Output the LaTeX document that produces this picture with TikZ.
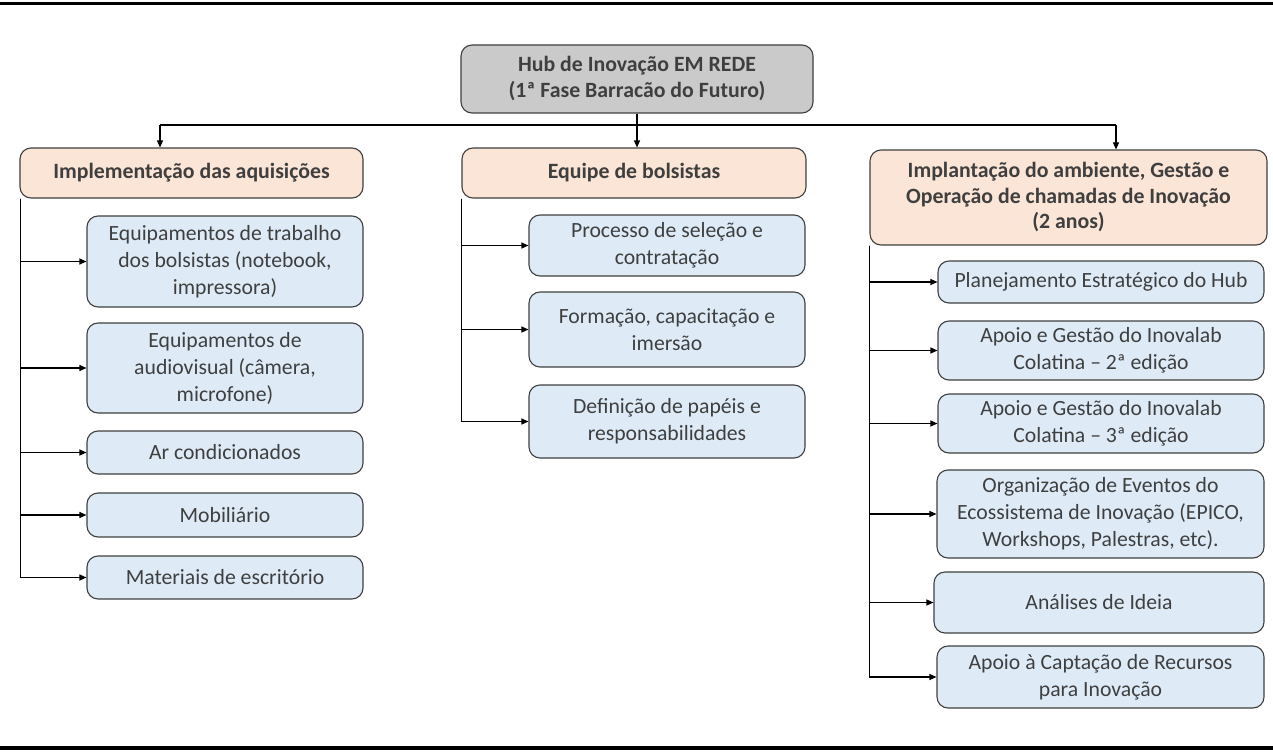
\documentclass[tikz,border=0pt]{standalone}
\usepackage{fontspec}
\setmainfont{Carlito}
\usepackage{tikz}
\usetikzlibrary{arrows.meta,positioning}

\definecolor{txtgrey}{HTML}{3F3F3F}
\definecolor{rootfill}{HTML}{CACACA}
\definecolor{headfill}{HTML}{FBE5D6}
\definecolor{kidfill}{HTML}{DEEBF7}

\begin{document}
\begin{tikzpicture}[x=1pt,y=-1pt,
    box/.style={draw=txtgrey,line width=1.1pt,rounded corners=11pt,inner sep=0pt,
                align=center,text=txtgrey,font=\fontsize{21.7}{27}\selectfont},
    rootbox/.style={box,fill=rootfill,font=\fontsize{21.8}{26}\selectfont\bfseries},
    headbox/.style={box,fill=headfill,font=\fontsize{21.8}{25.5}\selectfont\bfseries},
    kid/.style={box,fill=kidfill},
    link/.style={line width=1.1pt,black},
    arr/.style={link,-{Triangle[length=7pt,width=6pt]}}]
    \useasboundingbox (0,0) rectangle (1273,754);
    % rules top and bottom
    \draw[line width=3pt] (0,4) -- (1273,4);
    \draw[line width=4pt] (0,748) -- (1273,748);

    % root
    \node[rootbox,minimum width=352pt,minimum height=68pt] (root) at (637,79)
        {Hub de Inovação EM REDE\\(1ª Fase Barracão do Futuro)};

    % headers
    \node[headbox,minimum width=343pt,minimum height=50pt] (acq) at (191.5,173)
        {Implementação das aquisições};
    \node[headbox,minimum width=344pt,minimum height=50pt] (team) at (634,173)
        {Equipe de bolsistas};
    \node[headbox,minimum width=397pt,minimum height=95pt] (env) at (1068.5,197.5)
        {Implantação do ambiente, Gestão e\\Operação de chamadas de Inovação\\(2 anos)};

    % bus
    \coordinate (bus) at (637,125);
    \coordinate (busL) at (160,125);
    \coordinate (busR) at (1116,125);
    \draw[link] (root.south) -- (bus);
    \draw[link] (busL) -- (busR);
    \draw[arr] (bus) -- (bus |- team.north);
    \draw[arr] (busL) -- (busL |- acq.north);
    \draw[arr] (busR) -- (busR |- env.north);

    % aquisicoes
    \node[kid,minimum width=276pt,minimum height=91pt] (a1) at (225,261.5)
        {Equipamentos de trabalho\\dos bolsistas (notebook,\\impressora)};
    \node[kid,minimum width=276pt,minimum height=90pt] (a2) at (225,368)
        {Equipamentos de\\audiovisual (câmera,\\microfone)};
    \node[kid,minimum width=276pt,minimum height=43pt] (a3) at (225,452.5)
        {Ar condicionados};
    \node[kid,minimum width=276pt,minimum height=44pt] (a4) at (225,515)
        {Mobiliário};
    \node[kid,minimum width=276pt,minimum height=43pt] (a5) at (225,577.5)
        {Materiais de escritório};
    \foreach \k in {a1,a2,a3,a4,a5}
        \draw[arr] ([xshift=1pt]acq.south west) |- (\k.west);

    % bolsistas
    \node[kid,minimum width=276pt,minimum height=61pt] (b1) at (667,245.5)
        {Processo de seleção e\\contratação};
    \node[kid,minimum width=276pt,minimum height=75pt] (b2) at (667,329.5)
        {Formação, capacitação e\\imersão};
    \node[kid,minimum width=276pt,minimum height=73pt] (b3) at (667,421.5)
        {Definição de papéis e\\responsabilidades};
    \foreach \k in {b1,b2,b3}
        \draw[arr] (team.south west) |- (\k.west);

    % ambiente
    \node[kid,minimum width=326pt,minimum height=42pt] (c1) at (1101,282)
        {Planejamento Estratégico do Hub};
    \node[kid,minimum width=326pt,minimum height=59pt] (c2) at (1101,350.5)
        {Apoio e Gestão do Inovalab\\Colatina – 2ª edição};
    \node[kid,minimum width=326pt,minimum height=59pt] (c3) at (1101,423.5)
        {Apoio e Gestão do Inovalab\\Colatina – 3ª edição};
    \node[kid,minimum width=327pt,minimum height=88pt] (c4) at (1100.5,514)
        {Organização de Eventos do\\Ecossistema de Inovação (EPICO,\\Workshops, Palestras, etc).};
    \node[kid,minimum width=330pt,minimum height=61pt] (c5) at (1099,602.5)
        {Análises de Ideia};
    \node[kid,minimum width=327pt,minimum height=62pt] (c6) at (1100.5,677)
        {Apoio à Captação de Recursos\\para Inovação};
    \foreach \k in {c1,c2,c3,c4,c5,c6}
        \draw[arr] (env.south west) |- (\k.west);
\end{tikzpicture}
\end{document}
